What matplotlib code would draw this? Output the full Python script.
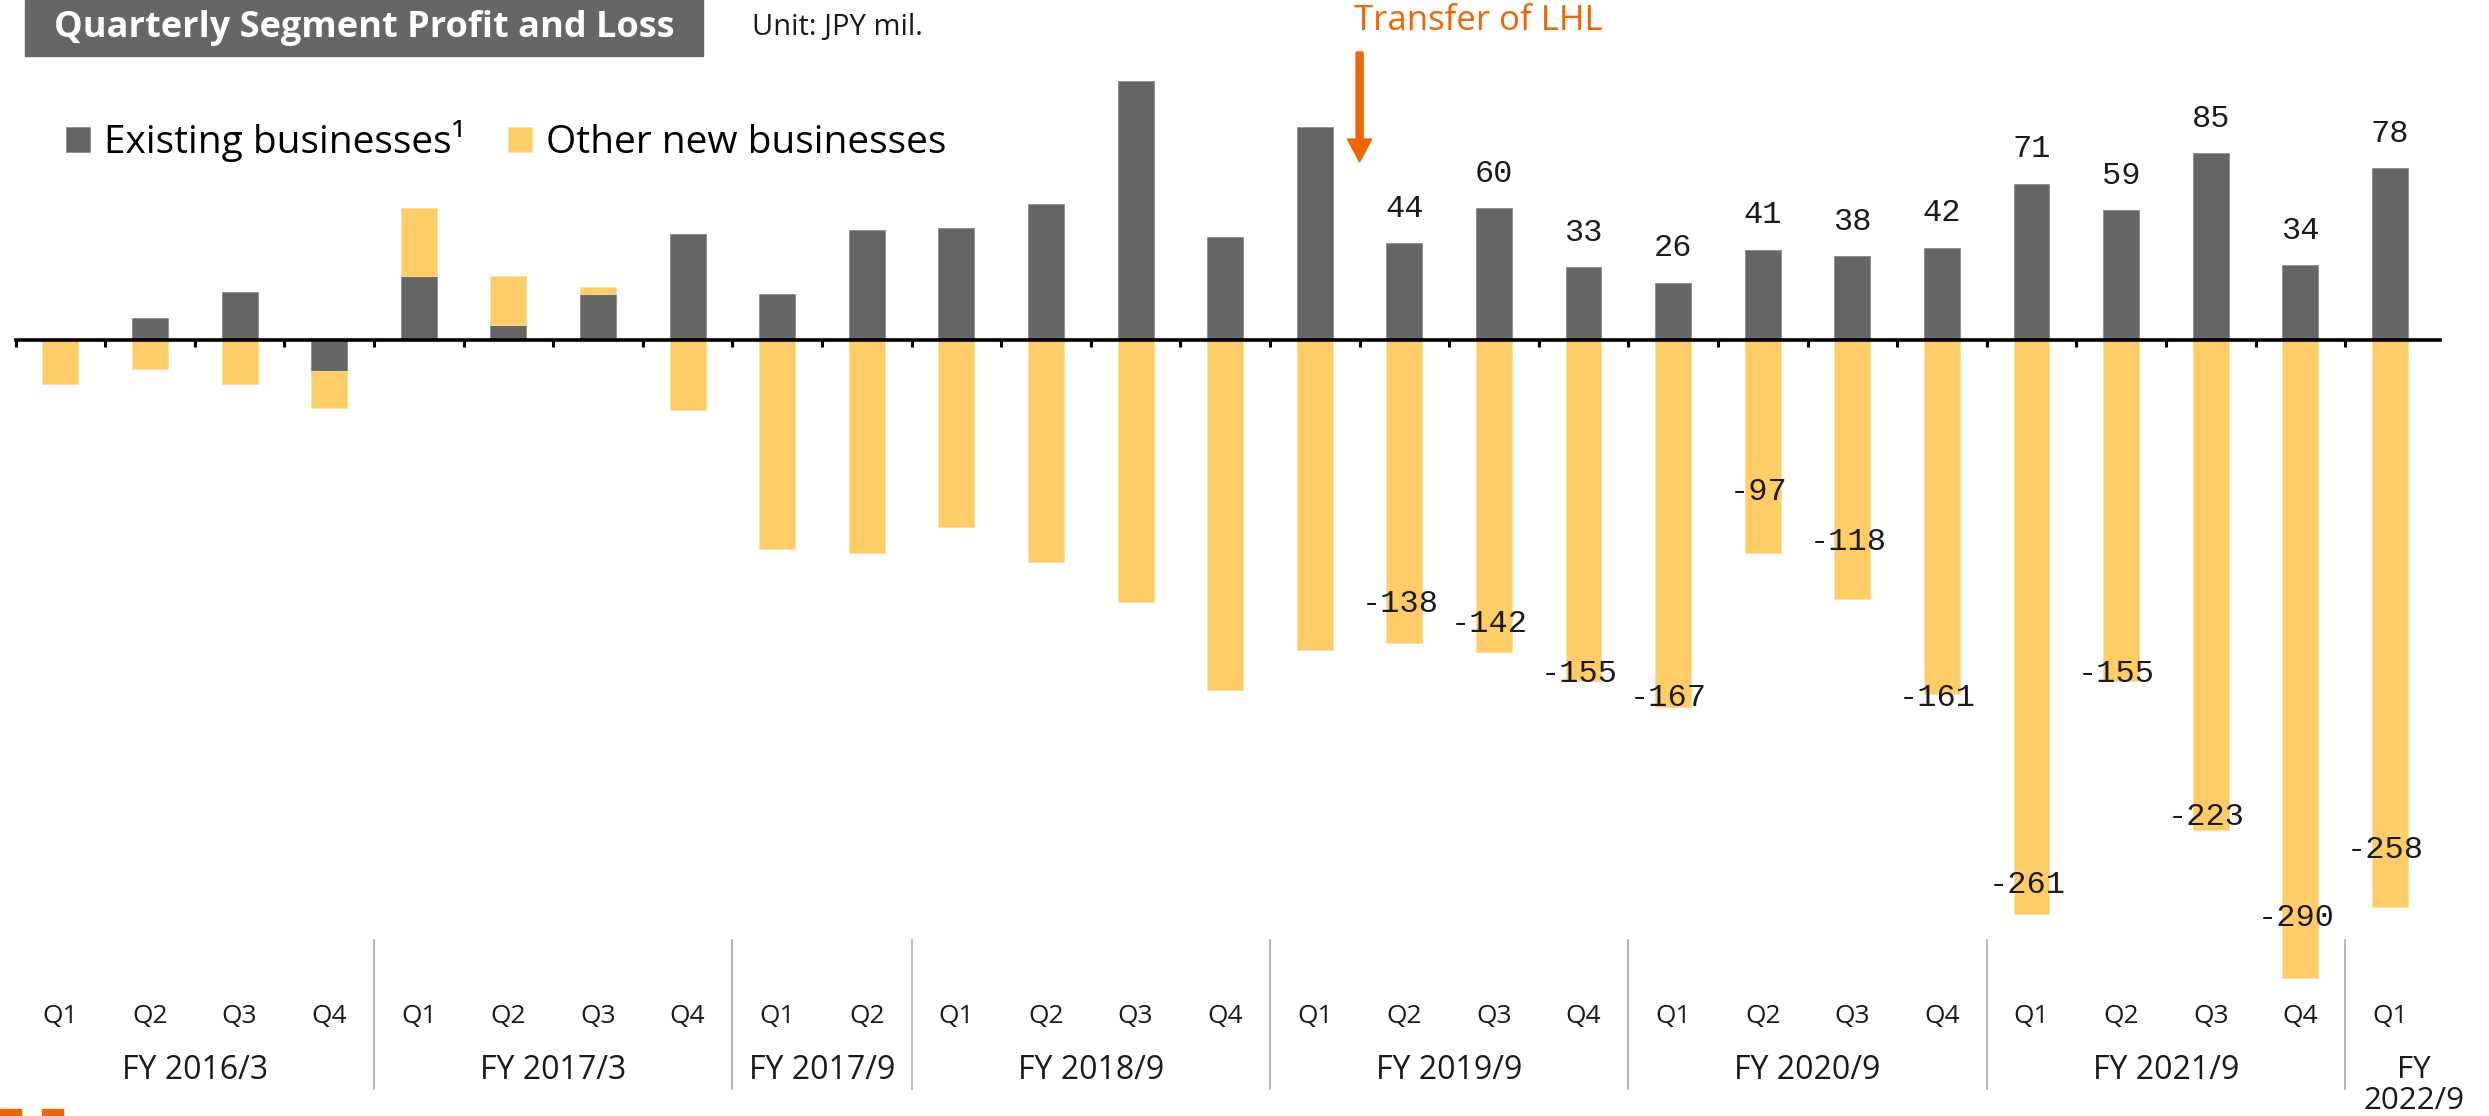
import numpy as np
import matplotlib
matplotlib.use("Agg")
import matplotlib.pyplot as plt
import matplotlib.patches as mpatches
from matplotlib.lines import Line2D
from matplotlib.transforms import blended_transform_factory

# Valeurs (JPY mil.)
quarters = ["Q1", "Q2", "Q3", "Q4",
            "Q1", "Q2", "Q3", "Q4",
            "Q1", "Q2",
            "Q1", "Q2", "Q3", "Q4",
            "Q1", "Q2", "Q3", "Q4",
            "Q1", "Q2", "Q3", "Q4",
            "Q1", "Q2", "Q3", "Q4",
            "Q1"]
fiscal_years = ["FY 2016/3", "FY 2017/3", "FY 2017/9", "FY 2018/9",
                "FY 2019/9", "FY 2020/9", "FY 2021/9", "FY\n2022/9"]
quarters_per_year = [4, 4, 2, 4, 4, 4, 4, 1]

existing = [0, 10, 22, -14, 29, 7, 21, 48, 21, 50, 51, 62, 118, 47,
            97, 44, 60, 33, 26, 41, 38, 42, 71, 59, 85, 34, 78]
other_new = [-20, -13, -20, -17, 31, 22, 3, -32, -95, -97, -85, -101, -119, -159,
             -141, -138, -142, -155, -167, -97, -118, -161, -261, -155, -223, -290, -258]

# étiquettes affichées à partir de FY2019/9 Q2
first_labelled = 15
neg_label_shift = [18, 13, 3, 4, 28, 26, -2, 13, 3, 6, 27, 26]

transfer_after = 14  # LHL transféré après FY2019/9 Q1

GREY = "#666666"
YELLOW = "#FFCC66"
ORANGE = "#EE6600"
INK = "#1a1a1a"
FONT = "Open Sans"

existing = np.array(existing)
other_new = np.array(other_new)
x = np.arange(len(existing))
other_bottom = np.where(other_new >= 0, np.maximum(existing, 0), np.minimum(existing, 0))

fig = plt.figure(figsize=(24.89, 11.16), dpi=100)
ax = fig.add_axes([0.00627, 0.1042, 0.9741, 0.8473])

b1 = ax.bar(x, existing, width=0.4, color=GREY, edgecolor="#8a8a8a", linewidth=0.6,
            label="Existing businesses¹")
b2 = ax.bar(x, other_new, width=0.4, bottom=other_bottom, color=YELLOW,
            edgecolor="#ffdf9a", linewidth=0.6, label="Other new businesses")

ax.set_xlim(-0.5, 26.56)
ax.set_ylim(-300, 130)
for s in ["top", "left", "right"]:
    ax.spines[s].set_visible(False)
ax.spines["bottom"].set_position(("data", 0))
ax.spines["bottom"].set_linewidth(2.6)
ax.set_xticks(np.arange(-0.5, 26, 1))
ax.tick_params(axis="x", length=5, width=2.2, labelbottom=False)
ax.set_yticks([])

# valeurs
for i in range(first_labelled, len(x)):
    ax.annotate(str(existing[i]), (x[i], existing[i]), xytext=(0, 19),
                textcoords="offset points", ha="center", va="baseline",
                family="Liberation Mono", fontsize=23, color=INK)
    k = i - first_labelled
    ax.text(x[i] - 0.05, other_new[i] + neg_label_shift[k], str(other_new[i]),
            ha="center", va="center", family="Liberation Mono", fontsize=23,
            color=INK)

# axe des catégories
trans = blended_transform_factory(ax.transData, fig.transFigure)
for i, q in enumerate(quarters):
    ax.text(x[i], 0.0896, q, transform=trans, ha="center", va="center",
            family=FONT, fontsize=19, color=INK)

start = 0
for fy, n in zip(fiscal_years, quarters_per_year):
    mid = start + (n - 1) / 2
    if n == 1:
        ax.text(mid + 0.27, 0.027, fy, transform=trans, ha="center", va="center",
                family=FONT, fontsize=22.5, color=INK, linespacing=1.05)
    else:
        ax.text(mid, 0.0412, fy, transform=trans, ha="center", va="center",
                family=FONT, fontsize=23, color=INK)
    start += n
    if start < len(x):
        ax.add_line(Line2D([start - 0.5, start - 0.5], [0.158, 0.024], transform=trans,
                           color="#aaaaaa", lw=1.2, clip_on=False))

# transfert LHL
ax.add_patch(mpatches.FancyArrow(transfer_after + 0.5, 0.9534, 0, -0.0986,
                                 width=0.078, head_width=0.27, head_length=0.0206,
                                 length_includes_head=True, transform=trans,
                                 color=ORANGE, clip_on=False))
fig.text(0.594, 0.981, "Transfer of LHL", ha="center", va="center",
         family=FONT, fontsize=25, color=ORANGE)

# titre
fig.patches.append(mpatches.Rectangle((25 / 2489, 1 - 56 / 1116), 678 / 2489, 56 / 1116,
                                      transform=fig.transFigure, color=GREY))
fig.text(364 / 2489, 1 - 28 / 1116, "Quarterly Segment Profit and Loss", ha="center",
         va="center", family=FONT, fontweight="bold", fontsize=26, color="white")
fig.text(752 / 2489, 1 - 27 / 1116, "Unit: JPY mil.", ha="left", va="center",
         family=FONT, fontsize=21, color=INK)

fig.legend(handles=[b1, b2], loc="center left", bbox_to_anchor=(0.0265, 0.8737),
           ncol=2, frameon=False, borderpad=0, borderaxespad=0, handlelength=0.62,
           handleheight=0.62, handletextpad=0.36, columnspacing=1.1,
           prop={"family": FONT, "size": 28})

# petites marques en bas à gauche
for x0 in [0, 42]:
    fig.patches.append(mpatches.Rectangle((x0 / 2489, 0), 21 / 2489, 7 / 1116,
                                          transform=fig.transFigure, color=ORANGE))

fig.savefig("out.png", dpi=100)
